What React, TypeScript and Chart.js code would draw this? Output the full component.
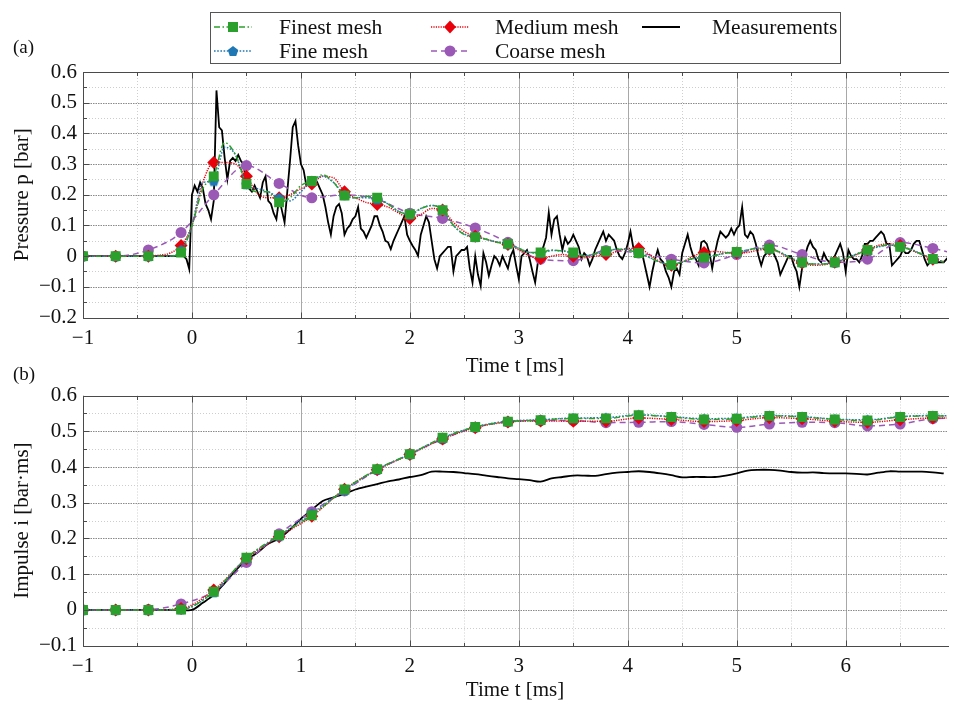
import React, { useEffect, useRef } from "react";
import { Chart, registerables } from "chart.js";

Chart.register(...registerables);

const SERIF = '"Liberation Serif", "Times New Roman", serif';
const GREEN = "#2ca02c";
const BLUE = "#1f77b4";
const RED = "#e8000b";
const PURPLE = "#9b59b6";
const INK = "#111111";

const SERIES_NAMES = ["Finest mesh", "Fine mesh", "Medium mesh", "Coarse mesh", "Measurements"];

// Sampling of the stored series (ms)
const SIM_T0 = -1;
const SIM_DT = 0.1; // finest / fine / medium pressure, measured impulse
const COARSE_T0 = -1;
const COARSE_DT = 0.3; // coarse pressure and all simulated impulses
const MEAS_T0 = -1;
const MEAS_DT = 0.025; // measured pressure

// ---- (a) pressure p [bar] ----
const pressureFinest = [
  0, 0, 0, 0, 0, 0, 0, 0, 0, 0.012,
  0.10, 0.22, 0.26, 0.37, 0.33, 0.235, 0.21, 0.21, 0.175, 0.19,
  0.23, 0.245, 0.265, 0.24, 0.197, 0.19, 0.195, 0.19, 0.17, 0.145,
  0.137, 0.155, 0.165, 0.15, 0.10, 0.07, 0.062, 0.055, 0.045, 0.04,
  0.025, 0.012, 0.012, 0.02, 0.017, 0.012, 0.0, 0.008, 0.016, 0.022,
  0.02, 0.01, -0.005, -0.02, -0.028, -0.018, -0.008, -0.005, 0.002, 0.01,
  0.014, 0.02, 0.026, 0.025, 0.012, -0.008, -0.02, -0.026, -0.026, -0.02,
  -0.008, 0.006, 0.02, 0.032, 0.036, 0.03, 0.02, 0.006, -0.009, -0.02,
];

const pressureFine = [
  0, 0, 0, 0, 0, 0, 0, 0, 0, 0.02,
  0.10, 0.24, 0.245, 0.355, 0.33, 0.235, 0.22, 0.21, 0.19, 0.18,
  0.21, 0.245, 0.26, 0.24, 0.20, 0.19, 0.19, 0.185, 0.17, 0.145,
  0.135, 0.155, 0.165, 0.152, 0.10, 0.072, 0.063, 0.055, 0.046, 0.04,
  0.025, 0.012, 0.01, 0.018, 0.017, 0.01, 0.002, 0.006, 0.015, 0.022,
  0.022, 0.012, -0.004, -0.02, -0.027, -0.02, -0.008, -0.003, 0.003, 0.01,
  0.013, 0.02, 0.025, 0.024, 0.012, -0.006, -0.02, -0.026, -0.025, -0.02,
  -0.008, 0.007, 0.02, 0.03, 0.036, 0.032, 0.022, 0.006, -0.008, -0.018,
];

const pressureMedium = [
  0, 0, 0, 0, 0, 0, 0, 0.003, 0.01, 0.035,
  0.10, 0.24, 0.305, 0.305, 0.30, 0.26, 0.205, 0.19, 0.19, 0.20,
  0.22, 0.235, 0.26, 0.255, 0.21, 0.19, 0.175, 0.168, 0.16, 0.14,
  0.123, 0.135, 0.155, 0.15, 0.11, 0.08, 0.065, 0.055, 0.045, 0.038,
  0.02, 0.0, -0.008, 0.0, 0.005, 0.0, -0.005, 0.0, 0.005, 0.015,
  0.025, 0.025, 0.005, -0.02, -0.03, -0.02, 0.0, 0.012, 0.015, 0.012,
  0.01, 0.012, 0.02, 0.022, 0.01, -0.01, -0.022, -0.03, -0.028, -0.02,
  -0.01, 0.005, 0.02, 0.035, 0.04, 0.035, 0.02, 0.005, -0.01, -0.018,
];

const pressureCoarse = [
  0, 0, 0.02, 0.077, 0.20, 0.295, 0.237, 0.19, 0.20, 0.185,
  0.14, 0.123, 0.092, 0.045, -0.01, -0.015, 0.018, 0.01, -0.01, -0.022,
  0.005, 0.036, 0.005, -0.02, -0.01, 0.044, 0.025, 0.0,
];

// one row per 0.1 ms, four samples each
const pressureMeasured = [
  0, 0, 0, 0, 0, 0, 0, 0, 0, 0, 0, 0,
  0, 0, 0, 0, 0, 0, 0, 0, 0, 0, 0, 0,
  0, 0, 0, 0, 0, 0, 0, 0, 0, 0, 0, 0,
  0, 0, -0.01, -0.042,
  0.20, 0.23, 0.21, 0.24,
  0.22, 0.17, 0.15, 0.12,
  0.18, 0.54, 0.42, 0.41,
  0.32, 0.25, 0.31, 0.32,
  0.31, 0.33, 0.31, 0.30,
  0.23, 0.22, 0.21, 0.23,
  0.21, 0.19, 0.24, 0.26,
  0.18, 0.17, 0.14, 0.12,
  0.19, 0.15, 0.11, 0.21,
  0.31, 0.42, 0.44, 0.36,
  0.30, 0.28, 0.23, 0.24,
  0.25, 0.23, 0.24, 0.22,
  0.20, 0.16, 0.11, 0.07,
  0.13, 0.16, 0.17, 0.14,
  0.07, 0.09, 0.10, 0.12,
  0.13, 0.16, 0.09, 0.08,
  0.06, 0.08, 0.10, 0.13,
  0.13, 0.10, 0.08, 0.05,
  0.045, 0.023, 0.05, 0.07,
  0.09, 0.11, 0.13, 0.07,
  0.05, 0.034, 0.02, 0.001,
  0.07, 0.10, 0.13, 0.11,
  0.05, -0.01, -0.04, 0.0,
  0.01, 0.02, 0.03, 0.03,
  -0.05, 0.0, 0.01, 0.02,
  0.02, 0.03, -0.04, -0.086,
  0.0, -0.06, -0.097, 0.01,
  -0.02, -0.064, -0.03, 0.0,
  -0.01, -0.03, 0.0, -0.02,
  -0.04, 0.0, 0.02, -0.03,
  -0.075, 0.0, 0.01, 0.02,
  -0.01, -0.05, -0.086, -0.02,
  0.01, 0.03, 0.06, 0.142,
  0.07, 0.12, 0.13, 0.07,
  0.02, 0.06, 0.04, 0.05,
  0.07, 0.05, 0.03, -0.01,
  0.01, 0.0, -0.03, -0.01,
  0.02, 0.04, 0.06, 0.08,
  0.05, 0.07, 0.06, 0.05,
  0.02, 0.0, -0.01, 0.01,
  0.04, 0.08, 0.03, 0.01,
  0.02, 0.02, -0.02, -0.06,
  -0.10, -0.05, -0.01, 0.02,
  -0.01, -0.02, -0.05, -0.07,
  -0.10, -0.05, -0.04, -0.06,
  0.01, 0.04, 0.07, 0.03,
  0.0, -0.01, -0.03, 0.045,
  0.05, 0.04, 0.01, -0.04,
  0.01, 0.05, 0.08, 0.07,
  0.06, 0.07, 0.09, 0.07,
  0.09, 0.10, 0.16, 0.07,
  0.06, 0.08, 0.07, 0.04,
  0.0, -0.03, 0.0, 0.01,
  0.02, 0.02, 0.0, -0.02,
  -0.06, -0.04, -0.02, 0.0,
  0.0, -0.03, -0.05, -0.10,
  -0.04, 0.0, 0.03, 0.05,
  0.03, 0.02, -0.01, -0.02,
  0.01, -0.01, -0.02, -0.01,
  0.0, 0.02, 0.04, 0.01,
  -0.05, 0.02, 0.0, -0.01,
  -0.01, -0.02, 0.0, 0.04,
  0.04, 0.05, 0.05, 0.06,
  0.07, 0.08, 0.07, 0.04,
  0.04, -0.03, -0.02, -0.01,
  0.0, 0.02, 0.01, 0.01,
  0.02, 0.04, 0.05, 0.05,
  0.02, -0.01, -0.03, -0.02,
  -0.02, -0.02, -0.02, -0.02,
  -0.02, -0.01, 0.0, 0.01,
];

// ---- (b) impulse i [bar·ms] ----
const impulseFinest = [
  0, 0, 0, 0.001, 0.051, 0.146, 0.209, 0.265, 0.337, 0.394,
  0.436, 0.482, 0.512, 0.527, 0.531, 0.536, 0.536, 0.545, 0.54, 0.533,
  0.535, 0.543, 0.54, 0.533, 0.53, 0.54, 0.543, 0.541,
];
const impulseFine = [
  0, 0, 0, 0.002, 0.05, 0.145, 0.207, 0.27, 0.335, 0.393,
  0.436, 0.481, 0.512, 0.528, 0.532, 0.537, 0.538, 0.546, 0.541, 0.535,
  0.537, 0.544, 0.541, 0.534, 0.532, 0.541, 0.544, 0.542,
];
const impulseMedium = [
  0, 0, 0, 0.004, 0.056, 0.143, 0.205, 0.262, 0.338, 0.392,
  0.435, 0.478, 0.51, 0.526, 0.529, 0.528, 0.528, 0.537, 0.533, 0.527,
  0.53, 0.538, 0.535, 0.528, 0.525, 0.532, 0.537, 0.536,
];
const impulseCoarse = [
  0, 0, 0.001, 0.017, 0.052, 0.133, 0.213, 0.275, 0.333, 0.392,
  0.436, 0.478, 0.511, 0.526, 0.53, 0.53, 0.524, 0.525, 0.527, 0.519,
  0.511, 0.52, 0.525, 0.524, 0.515, 0.52, 0.535, 0.537,
];
const impulseMeasured = [
  0, 0, 0, 0, 0, 0, 0, 0, 0, 0,
  0, 0.02, 0.042, 0.075, 0.11, 0.14, 0.16, 0.185, 0.2, 0.225,
  0.255, 0.28, 0.305, 0.315, 0.325, 0.337, 0.345, 0.352, 0.36, 0.365,
  0.372, 0.377, 0.387, 0.387, 0.386, 0.383, 0.38, 0.376, 0.372, 0.368,
  0.366, 0.363, 0.359, 0.368, 0.372, 0.376, 0.376, 0.375, 0.38, 0.384,
  0.386, 0.388, 0.386, 0.382, 0.377, 0.371, 0.372, 0.372, 0.372, 0.376,
  0.382, 0.39, 0.392, 0.392, 0.39, 0.386, 0.384, 0.385, 0.383, 0.382,
  0.382, 0.381, 0.379, 0.384, 0.388, 0.387, 0.387, 0.387, 0.385, 0.382,
];

// Axis limits
const X_MIN = -1;
const X_MAX = 6.93;
const P_MIN = -0.2;
const P_MAX = 0.6;
const I_MIN = -0.1;
const I_MAX = 0.6;

// Line styles
const DASH_FINEST = [6, 2.5, 1.5, 2.5];
const DASH_FINE = [1.6, 1.6];
const DASH_MEDIUM = [1.2, 1.2];
const DASH_COARSE = [6, 4];

const toXY = (t0: number, dt: number, ys: number[]) =>
  ys.map((y, i) => ({ x: Math.round((t0 + i * dt) * 1000) / 1000, y }));

const fmtNum = (v: number) => {
  const r = Math.round(v * 10) / 10;
  return r < 0 ? "\u2212" + String(-r) : String(r === 0 ? 0 : r);
};

function makePentagon(color: string, r: number) {
  const size = Math.ceil(r * 2 + 2);
  const c = document.createElement("canvas");
  c.width = size;
  c.height = size;
  const g = c.getContext("2d")!;
  g.fillStyle = color;
  g.beginPath();
  for (let k = 0; k < 5; k++) {
    const a = -Math.PI / 2 + (k * 2 * Math.PI) / 5;
    const px = size / 2 + r * Math.cos(a);
    const py = size / 2 + 0.6 + r * Math.sin(a);
    if (k === 0) g.moveTo(px, py);
    else g.lineTo(px, py);
  }
  g.closePath();
  g.fill();
  return c;
}

function drawMarker(ctx: CanvasRenderingContext2D, kind: string, x: number, y: number, color: string) {
  ctx.save();
  ctx.fillStyle = color;
  ctx.setLineDash([]);
  ctx.beginPath();
  if (kind === "square") {
    ctx.rect(x - 5, y - 5, 10, 10);
  } else if (kind === "diamond") {
    ctx.moveTo(x, y - 6.5);
    ctx.lineTo(x + 6, y);
    ctx.lineTo(x, y + 6.5);
    ctx.lineTo(x - 6, y);
    ctx.closePath();
  } else if (kind === "circle") {
    ctx.arc(x, y, 5.5, 0, Math.PI * 2);
  } else if (kind === "pentagon") {
    for (let k = 0; k < 5; k++) {
      const a = -Math.PI / 2 + (k * 2 * Math.PI) / 5;
      const px = x + 5.5 * Math.cos(a);
      const py = y + 0.6 + 5.5 * Math.sin(a);
      if (k === 0) ctx.moveTo(px, py);
      else ctx.lineTo(px, py);
    }
    ctx.closePath();
  }
  ctx.fill();
  ctx.restore();
}

const LEGEND_ITEMS = [
  { name: SERIES_NAMES[0], color: GREEN, dash: DASH_FINEST, marker: "square", x: 214, y: 27, tx: 279 },
  { name: SERIES_NAMES[1], color: BLUE, dash: DASH_FINE, marker: "pentagon", x: 214, y: 51, tx: 279 },
  { name: SERIES_NAMES[2], color: RED, dash: DASH_MEDIUM, marker: "diamond", x: 431, y: 27, tx: 495 },
  { name: SERIES_NAMES[3], color: PURPLE, dash: DASH_COARSE, marker: "circle", x: 431, y: 51, tx: 495 },
  { name: SERIES_NAMES[4], color: "#000", dash: [] as number[], marker: "", x: 642, y: 27, tx: 712 },
];

function drawLegend(ctx: CanvasRenderingContext2D) {
  ctx.save();
  ctx.fillStyle = "#ffffff";
  ctx.fillRect(210, 12, 631, 52);
  ctx.strokeStyle = "#555555";
  ctx.lineWidth = 1;
  ctx.setLineDash([]);
  ctx.strokeRect(210.5, 12.5, 630, 51);
  for (const it of LEGEND_ITEMS) {
    ctx.beginPath();
    ctx.strokeStyle = it.color;
    ctx.lineWidth = it.marker ? 1.5 : 1.8;
    ctx.setLineDash(it.dash);
    ctx.moveTo(it.x, it.y);
    ctx.lineTo(it.x + 38, it.y);
    ctx.stroke();
    if (it.marker) drawMarker(ctx, it.marker, it.x + 19, it.y, it.color);
    ctx.fillStyle = INK;
    ctx.font = `21.5px ${SERIF}`;
    ctx.textAlign = "left";
    ctx.textBaseline = "middle";
    ctx.fillText(it.name, it.tx, it.y + 1);
  }
  ctx.restore();
}

// Grid, frame, tick marks, titles and panel tag
const panelDeco = {
  id: "panelDeco",
  beforeDatasetsDraw(chart: any, _args: any, o: any) {
    const { ctx, chartArea: a, scales } = chart;
    const xs = scales.x;
    const ys = scales.y;
    ctx.save();
    ctx.lineWidth = 1;
    for (let i = Math.ceil(xs.min * 2); i <= Math.floor(xs.max * 2); i++) {
      const major = i % 2 === 0;
      const px = Math.round(xs.getPixelForValue(i / 2)) + 0.5;
      ctx.beginPath();
      ctx.setLineDash(major ? [] : [1, 2]);
      ctx.strokeStyle = major ? "#a8a8a8" : "#cfcfcf";
      ctx.moveTo(px, a.top);
      ctx.lineTo(px, a.bottom);
      ctx.stroke();
    }
    for (let j = Math.round(ys.min * 20); j <= Math.round(ys.max * 20); j++) {
      const major = j % 2 === 0;
      const py = Math.round(ys.getPixelForValue(j / 20)) + 0.5;
      ctx.beginPath();
      ctx.setLineDash(major ? [1.5, 1] : [1, 2]);
      ctx.strokeStyle = major ? "#8a8a8a" : "#cdcdcd";
      ctx.moveTo(a.left, py);
      ctx.lineTo(a.right, py);
      ctx.stroke();
    }
    ctx.restore();
  },
  afterDatasetsDraw(chart: any) {
    const { ctx, chartArea: a, scales } = chart;
    const xs = scales.x;
    const ys = scales.y;
    const L = Math.round(a.left) + 0.5;
    const T = Math.round(a.top) + 0.5;
    const B = Math.round(a.bottom) + 0.5;
    ctx.save();
    ctx.setLineDash([]);
    ctx.strokeStyle = "#4a4a4a";
    ctx.lineWidth = 1;
    ctx.beginPath();
    ctx.moveTo(a.right + 2, T);
    ctx.lineTo(L, T);
    ctx.lineTo(L, B);
    ctx.lineTo(a.right + 2, B);
    for (let i = Math.ceil(xs.min * 2); i <= Math.floor(xs.max * 2); i++) {
      const len = i % 2 === 0 ? 6 : 3.5;
      const px = Math.round(xs.getPixelForValue(i / 2)) + 0.5;
      ctx.moveTo(px, B);
      ctx.lineTo(px, B - len);
      ctx.moveTo(px, T);
      ctx.lineTo(px, T + len);
    }
    for (let j = Math.round(ys.min * 20); j <= Math.round(ys.max * 20); j++) {
      const len = j % 2 === 0 ? 6 : 3.5;
      const py = Math.round(ys.getPixelForValue(j / 20)) + 0.5;
      ctx.moveTo(L, py);
      ctx.lineTo(L + len, py);
    }
    ctx.stroke();
    ctx.restore();
  },
  afterDraw(chart: any, _args: any, o: any) {
    const { ctx, chartArea: a } = chart;
    ctx.save();
    ctx.fillStyle = INK;
    ctx.font = `21px ${SERIF}`;
    ctx.textAlign = "center";
    ctx.textBaseline = "middle";
    ctx.fillText(o.xTitle, (a.left + a.right) / 2, o.xTitleY);
    ctx.save();
    ctx.translate(o.yTitleX, (a.top + a.bottom) / 2);
    ctx.rotate(-Math.PI / 2);
    ctx.fillText(o.yTitle, 0, 0);
    ctx.restore();
    ctx.font = `19px ${SERIF}`;
    ctx.textAlign = "left";
    ctx.fillText(o.tag, o.tagX, o.tagY);
    ctx.restore();
    if (o.legend) drawLegend(ctx);
  },
};

function simSet(label: string, data: any[], color: string, dash: number[], style: any, radius: number, every: number) {
  return {
    label,
    data,
    borderColor: color,
    backgroundColor: color,
    borderWidth: 1.5,
    borderDash: dash,
    cubicInterpolationMode: "monotone",
    pointStyle: style,
    pointRadius: (c: any) => (c.dataIndex % every === 0 ? radius : 0),
    pointBackgroundColor: color,
    pointBorderColor: color,
    pointBorderWidth: 0,
    pointHoverRadius: 0,
  };
}

function buildConfig(p: any) {
  const tickFont = { family: SERIF, size: 21 };
  return {
    type: "line",
    data: { datasets: p.datasets },
    plugins: [panelDeco],
    options: {
      animation: false,
      responsive: false,
      devicePixelRatio: 1,
      events: [],
      layout: { padding: { top: p.padTop, left: 0, right: 0, bottom: 0 } },
      plugins: {
        legend: { display: false },
        tooltip: { enabled: false },
        panelDeco: p.deco,
      },
      scales: {
        x: {
          type: "linear",
          min: X_MIN,
          max: X_MAX,
          grid: { display: false, drawTicks: false },
          border: { display: false },
          ticks: {
            stepSize: 1,
            includeBounds: false,
            autoSkip: false,
            maxRotation: 0,
            padding: 8,
            color: INK,
            font: tickFont,
            callback: (v: number) => fmtNum(v),
          },
          afterFit: (s: any) => {
            s.height = p.xAxisH;
          },
        },
        y: {
          min: p.yMin,
          max: p.yMax,
          grid: { display: false, drawTicks: false },
          border: { display: false },
          ticks: {
            stepSize: 0.1,
            padding: 6,
            color: INK,
            font: tickFont,
            callback: (v: number) => fmtNum(v),
          },
          afterFit: (s: any) => {
            s.width = 83;
          },
        },
      },
    },
  };
}

export default function App() {
  const topRef = useRef<HTMLCanvasElement>(null);
  const botRef = useRef<HTMLCanvasElement>(null);

  useEffect(() => {
    const pent = makePentagon(BLUE, 5.5);
    const measLine = (data: any[], tension: number) => ({
      label: SERIES_NAMES[4],
      data,
      borderColor: "#000",
      backgroundColor: "#000",
      borderWidth: 1.8,
      pointRadius: 0,
      tension,
    });

    const pressureSets = [
      simSet(SERIES_NAMES[0], toXY(SIM_T0, SIM_DT, pressureFinest), GREEN, DASH_FINEST, "rect", 7, 3),
      simSet(SERIES_NAMES[1], toXY(SIM_T0, SIM_DT, pressureFine), BLUE, DASH_FINE, pent, 5.5, 3),
      simSet(SERIES_NAMES[2], toXY(SIM_T0, SIM_DT, pressureMedium), RED, DASH_MEDIUM, "rectRot", 6.5, 3),
      simSet(SERIES_NAMES[3], toXY(COARSE_T0, COARSE_DT, pressureCoarse), PURPLE, DASH_COARSE, "circle", 5.5, 1),
      measLine(toXY(MEAS_T0, MEAS_DT, pressureMeasured), 0),
    ];

    const impulseSets = [
      simSet(SERIES_NAMES[0], toXY(COARSE_T0, COARSE_DT, impulseFinest), GREEN, DASH_FINEST, "rect", 7, 1),
      simSet(SERIES_NAMES[1], toXY(COARSE_T0, COARSE_DT, impulseFine), BLUE, DASH_FINE, pent, 5.5, 1),
      simSet(SERIES_NAMES[2], toXY(COARSE_T0, COARSE_DT, impulseMedium), RED, DASH_MEDIUM, "rectRot", 6.5, 1),
      simSet(SERIES_NAMES[3], toXY(COARSE_T0, COARSE_DT, impulseCoarse), PURPLE, DASH_COARSE, "circle", 5.5, 1),
      measLine(toXY(SIM_T0, SIM_DT, impulseMeasured), 0.3),
    ];

    const top = new Chart(
      topRef.current as HTMLCanvasElement,
      buildConfig({
        datasets: pressureSets,
        yMin: P_MIN,
        yMax: P_MAX,
        padTop: 72,
        xAxisH: 60.5,
        deco: {
          xTitle: "Time t [ms]",
          xTitleY: 366,
          yTitle: "Pressure p [bar]",
          yTitleX: 22,
          tag: "(a)",
          tagX: 13,
          tagY: 48,
          legend: true,
        },
      }) as any
    );

    const bottom = new Chart(
      botRef.current as HTMLCanvasElement,
      buildConfig({
        datasets: impulseSets,
        yMin: I_MIN,
        yMax: I_MAX,
        padTop: 33.5,
        xAxisH: 58.3,
        deco: {
          xTitle: "Time t [ms]",
          xTitleY: 328,
          yTitle: "Impulse i [bar\u00b7ms]",
          yTitleX: 22,
          tag: "(b)",
          tagX: 13,
          tagY: 13,
          legend: false,
        },
      }) as any
    );

    return () => {
      top.destroy();
      bottom.destroy();
    };
  }, []);

  return (
    <div style={{ position: "absolute", left: 0, top: 0, width: 954, height: 704, background: "#ffffff", overflow: "hidden" }}>
      <canvas ref={topRef} width={954} height={378} style={{ position: "absolute", left: 0, top: 0 }} />
      <canvas ref={botRef} width={954} height={342} style={{ position: "absolute", left: 0, top: 362 }} />
    </div>
  );
}
